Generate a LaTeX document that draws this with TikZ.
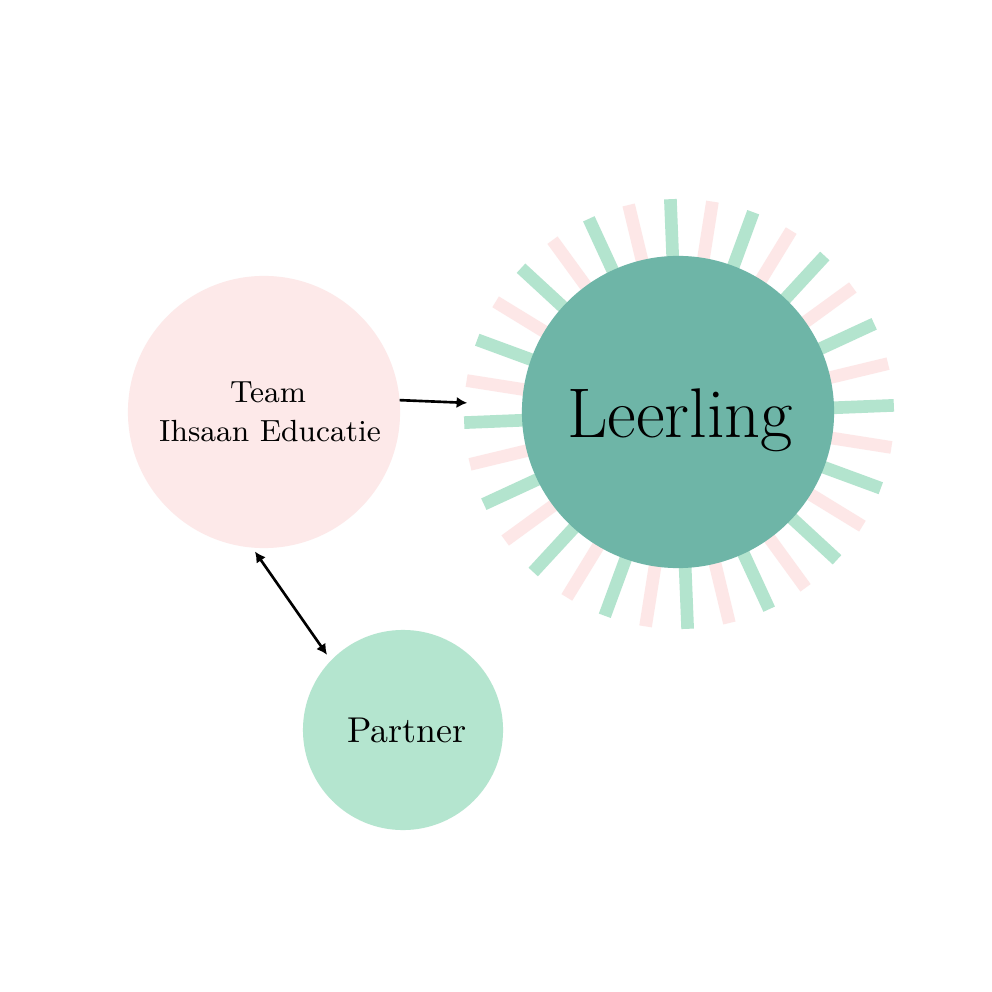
\documentclass[tikz,border=0pt]{standalone}
\usetikzlibrary{arrows.meta,calc}
\definecolor{pinkc}{HTML}{FDE9E9}
\definecolor{pinkray}{HTML}{FDE7E7}
\definecolor{mintc}{HTML}{B4E5CF}
\definecolor{mintray}{HTML}{B3E4CE}
\definecolor{tealc}{HTML}{6EB5A7}
\tikzset{
  disc/.style={circle, inner sep=0pt, outer sep=0pt, draw=none},
  lbl/.style={anchor=base, inner sep=0pt, text=black},
  ray/.style={line width=3.6pt},
  conn/.style={line width=0.75pt, black, >={Latex[length=3pt,width=3.2pt]}},
}
\begin{document}
\begin{tikzpicture}[x=0.01cm, y=-0.01cm]
\useasboundingbox[fill=white] (0,0) rectangle (992,992);
\coordinate (rc) at (679,414);
% rays
\foreach \i in {0,...,31}{
  \pgfmathsetmacro{\a}{-2.3-\i*11.25}
  \pgfmathtruncatemacro{\odd}{mod(\i,2)}
  \ifnum\odd=0
    \draw[ray, mintray] ($(rc)+(\a:150)$) -- ($(rc)+(\a:215)$);
  \else
    \draw[ray, pinkray] ($(rc)+(\a:150)$) -- ($(rc)+(\a:215)$);
  \fi
}
\node[disc, minimum size=4.24cm] (ring) at (rc) {};
\node[disc, fill=tealc, minimum size=3.12cm] (leer) at (678,412) {};
\node[disc, fill=pinkc, minimum size=2.72cm] (team) at (264,412) {};
\node[disc, fill=mintc, minimum size=2.0cm] (partner) at (403,730) {};
\node[lbl, font=\fontsize{20}{24}\selectfont] (leertext) at (680,438) {Leerling};
\node[lbl, font=\fontsize{8.7}{11}\selectfont] (team1) at (268,403) {Team};
\node[lbl, font=\fontsize{8.7}{11}\selectfont] (team2) at (270,442) {Ihsaan Educatie};
\node[lbl, font=\fontsize{10.2}{12}\selectfont] (parttext) at (407,742) {Partner};
\draw[conn, ->] (team.5.5) -- (ring.177);
\draw[conn, <->, shorten <=1.4pt, shorten >=2pt] (team.265) -- (partner.136);
\end{tikzpicture}
\end{document}
